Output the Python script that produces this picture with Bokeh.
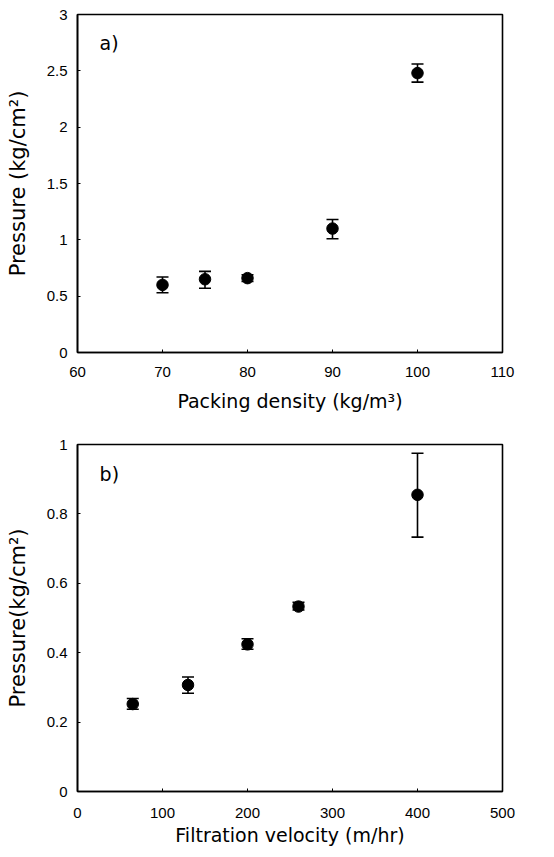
from bokeh.plotting import figure
from bokeh.models import ColumnDataSource, Range1d, FixedTicker, Whisker, TeeHead, Label
from bokeh.layouts import column
from bokeh.embed import file_html
from bokeh.resources import INLINE

# ---- data: panel a) ----
density = [70, 75, 80, 90, 100]
pressure_a = [0.60, 0.65, 0.66, 1.10, 2.48]
err_lo_a = [0.53, 0.57, 0.63, 1.01, 2.40]
err_hi_a = [0.67, 0.72, 0.69, 1.18, 2.56]
x_ticks_a = [60, 70, 80, 90, 100, 110]
y_ticks_a = [0, 0.5, 1, 1.5, 2, 2.5, 3]
y_labels_a = ["0", "0.5", "1", "1.5", "2", "2.5", "3"]

# ---- data: panel b) ----
velocity = [65, 130, 200, 260, 400]
pressure_b = [0.252, 0.307, 0.424, 0.533, 0.855]
err_lo_b = [0.237, 0.283, 0.410, 0.523, 0.733]
err_hi_b = [0.268, 0.330, 0.440, 0.545, 0.975]
x_ticks_b = [0, 100, 200, 300, 400, 500]
y_ticks_b = [0, 0.2, 0.4, 0.6, 0.8, 1]
y_labels_b = ["0", "0.2", "0.4", "0.6", "0.8", "1"]

TICK_FONT = "Liberation Sans"
LABEL_FONT = "DejaVu Sans"


def make_panel(xs, ys, lo, hi, xr, yr, xt, yt, ylab, xlabel, ylabel, tag, tag_xy,
               width, height, borders, xstand, xlstand):
    p = figure(width=width, height=height, output_backend="svg", toolbar_location=None,
               x_range=Range1d(*xr), y_range=Range1d(*yr),
               min_border_left=borders[0], min_border_right=borders[1],
               min_border_top=borders[2], min_border_bottom=borders[3])
    p.xgrid.visible = False
    p.ygrid.visible = False
    p.outline_line_color = "black"
    p.outline_line_width = 1.6
    p.background_fill_color = "white"
    p.border_fill_color = "white"

    src = ColumnDataSource(dict(x=xs, y=ys, lo=lo, hi=hi))
    w = Whisker(source=src, base="x", lower="lo", upper="hi",
                line_color="black", line_width=1.6,
                lower_head=TeeHead(size=12, line_color="black", line_width=1.6),
                upper_head=TeeHead(size=12, line_color="black", line_width=1.6))
    p.add_layout(w)
    p.scatter("x", "y", source=src, size=11.5, color="black")

    p.xaxis.ticker = FixedTicker(ticks=xt)
    p.yaxis.ticker = FixedTicker(ticks=yt)
    p.yaxis.major_label_overrides = {v: s for v, s in zip(yt, ylab)}
    for ax in (p.xaxis[0], p.yaxis[0]):
        ax.axis_line_color = "black"
        ax.axis_line_width = 1.6
        ax.major_tick_in = 3
        ax.major_tick_out = 0
        ax.major_tick_line_color = "black"
        ax.minor_tick_line_color = None
        ax.major_label_text_font = TICK_FONT
        ax.major_label_text_font_size = "15px"
        ax.major_label_text_color = "black"
        ax.axis_label_text_font = LABEL_FONT
        ax.axis_label_text_font_style = "normal"
        ax.axis_label_text_color = "black"
    p.xaxis.axis_label = xlabel
    p.yaxis.axis_label = ylabel
    p.xaxis.axis_label_text_font_size = "19px"
    p.yaxis.axis_label_text_font_size = "21px"
    p.xaxis.major_label_standoff = xstand
    p.xaxis.axis_label_standoff = xlstand
    p.yaxis.major_label_standoff = 10
    p.yaxis.axis_label_standoff = 14

    p.add_layout(Label(x=tag_xy[0], y=tag_xy[1], text=tag, text_font=LABEL_FONT,
                       text_font_size="19px", text_color="black", text_baseline="middle"))
    return p


p1 = make_panel(density, pressure_a, err_lo_a, err_hi_a, (60, 110), (0, 3),
                x_ticks_a, y_ticks_a, y_labels_a,
                "Packing density (kg/m\u00b3)", "Pressure (kg/cm\u00b2)", "a)", (62.6, 2.75),
                554, 420, (77, 52, 14, 68), 14, 10)
p2 = make_panel(velocity, pressure_b, err_lo_b, err_hi_b, (0, 500), (0, 1),
                x_ticks_b, y_ticks_b, y_labels_b,
                "Filtration velocity (m/hr)", "Pressure(kg/cm\u00b2)", "b)", (26, 0.915),
                554, 437, (77, 49, 24, 66), 16, 3)

layout = column(p1, p2, spacing=0)
open("out.html", "w").write(file_html(layout, INLINE))
